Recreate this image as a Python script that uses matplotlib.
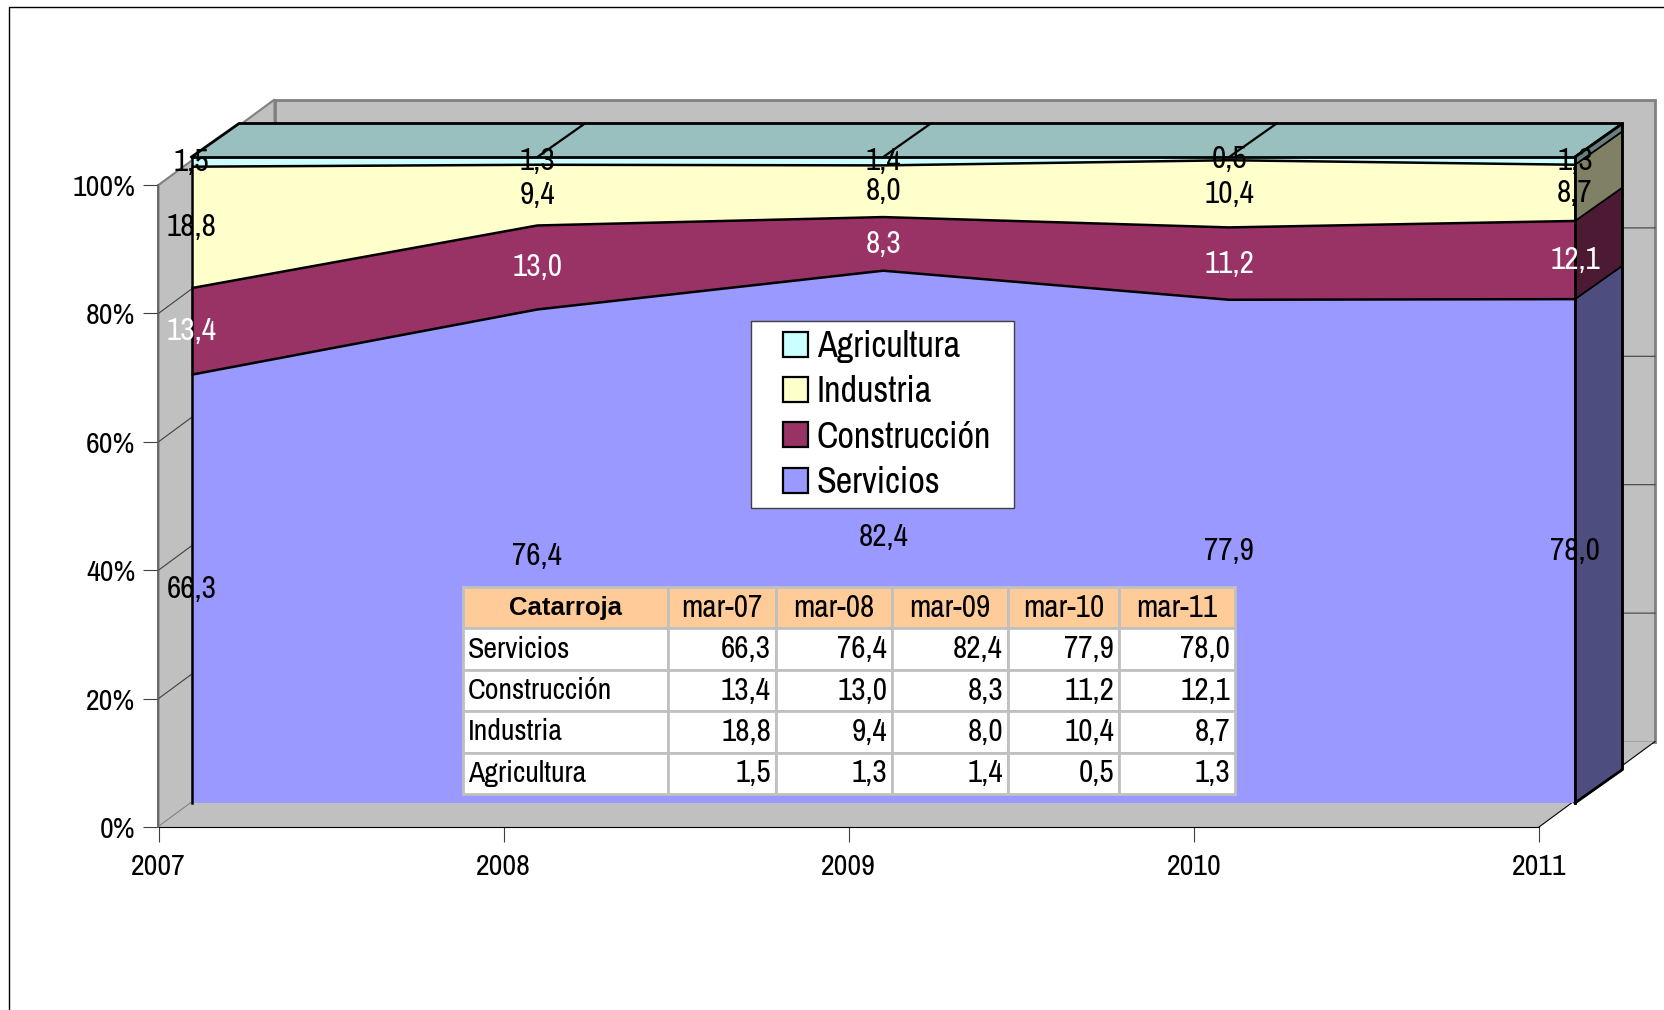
import matplotlib
matplotlib.use('Agg')
import numpy as np
import matplotlib.pyplot as plt
from matplotlib.patches import Polygon, Patch, Rectangle
from matplotlib.lines import Line2D

anios = [2007, 2008, 2009, 2010, 2011]
meses = ['mar-07', 'mar-08', 'mar-09', 'mar-10', 'mar-11']
servicios = [66.3, 76.4, 82.4, 77.9, 78.0]
construccion = [13.4, 13.0, 8.3, 11.2, 12.1]
industria = [18.8, 9.4, 8.0, 10.4, 8.7]
agricultura = [1.5, 1.3, 1.4, 0.5, 1.3]

nombres = ['Servicios', 'Construcción', 'Industria', 'Agricultura']
colores = ['#9999FF', '#993366', '#FFFFCC', '#CCFFFF']
laterales = ['#4D4D80', '#4D1A33', '#808066', '#668080']
color_etiqueta = ['black', 'white', 'black', 'black']

plt.rcParams['font.family'] = ['Archivo Narrow', 'Liberation Sans']
W, H = 1665, 1010
TEXTO = 22.5


def caja(x0, y0, x1, y1):
    # rectangle in image pixels -> figure fraction
    return [x0/W, 1-y1/H, (x1-x0)/W, (y1-y0)/H]


fig = plt.figure(figsize=(W/100, H/100), dpi=100, facecolor='white')

# outer frame, only left and top reach inside the picture
fig.add_artist(Line2D([9.5/W, 9.5/W, 1], [0, 1-6.5/H, 1-6.5/H], color='black', lw=1.0))

# --- axis plane with the walls behind it
eje = fig.add_axes(caja(158.5, 185, 1539, 827), facecolor='none')
eje.set_xlim(2007, 2011)
eje.set_ylim(0, 100)
fx = (2011-2007)/(1539-158.5)
fy = 100/(827-185)
px, py = 116*fx, 85.5*fy  # depth of the box in data units
gris = '#C0C0C0'
borde = '#808080'
eje.add_patch(Polygon([(2007+px, 100+py), (2011+px, 100+py), (2011+px, py), (2007+px, py)],
                      fc=gris, ec=borde, lw=2, clip_on=False, zorder=0.6))
eje.add_patch(Polygon([(2007, 0), (2007, 100), (2007+px, 100+py), (2007+px, py)],
                      fc=gris, ec=borde, lw=1.5, clip_on=False, zorder=0.7))
eje.add_patch(Polygon([(2007, 0), (2011, 0), (2011+px, py), (2007+px, py)],
                      fc=gris, ec='none', clip_on=False, zorder=0.7))
eje.plot([2011, 2011+px], [0, py], color='black', lw=0.8, clip_on=False, zorder=0.8)
for v in range(20, 100, 20):
    eje.plot([2007, 2007+px, 2011+px], [v, v+py, v+py], color='#404040', lw=0.8, clip_on=False, zorder=0.9)
eje.set_xticks(anios)
eje.set_xticklabels([str(a) for a in anios])
eje.set_yticks(range(0, 101, 20))
eje.set_yticklabels(['%d%%' % v for v in range(0, 101, 20)])
eje.tick_params(axis='both', length=10.5, width=0.8, color='#404040', labelsize=21.5, pad=6)
eje.tick_params(axis='x', pad=8)
for lab in eje.get_yticklabels():
    lab.set_va('center_baseline')
for lado in ['top', 'right']:
    eje.spines[lado].set_visible(False)
eje.spines['left'].set_color('#606060')
eje.spines['left'].set_linewidth(1.2)
eje.spines['bottom'].set_color('black')

# --- stacked series plane
ax = fig.add_axes(caja(191.5, 157, 1575, 803), facecolor='none')
ax.set_xlim(2007, 2011)
ax.set_ylim(0, 100)
ax.set_axis_off()
series = [servicios, construccion, industria, agricultura]
acum = np.cumsum(series, axis=0)
ax.stackplot(anios, series, colors=colores, linewidth=0, zorder=2)
for techo in acum[:-1]:
    ax.plot(anios, techo, color='black', lw=1.8, zorder=3, solid_capstyle='butt')

gx = (2011-2007)/(1575-191.5)
gy = 100/(803-157)
dx, dy = 47.5*gx, 33.5*gy  # series thickness in data units

# top face
ax.add_patch(Polygon([(2007, 100), (2011, 100), (2011+dx, 100+dy), (2007+dx, 100+dy)],
                     fc='#99BFBF', ec='none', clip_on=False, zorder=2))
ax.plot([2007, 2011], [100, 100], color='black', lw=2, clip_on=False, zorder=4)
ax.plot([2007, 2007+dx, 2011+dx], [100, 100+dy, 100+dy], color='black', lw=2, clip_on=False, zorder=4)
for a in anios[1:-1]:
    ax.plot([a, a+dx], [100, 100+dy], color='black', lw=1.6, clip_on=False, zorder=4)

# right side faces, from the 2011 values
base = 0
for techo, col in zip(acum[:, -1], laterales):
    ax.add_patch(Polygon([(2011, base), (2011, techo), (2011+dx, techo+dy), (2011+dx, base+dy)],
                         fc=col, ec='black', lw=1.2, clip_on=False, zorder=3))
    base = techo
ax.plot([2007, 2007], [0, 100], color='black', lw=1.8, clip_on=False, zorder=4)
ax.plot([2011, 2011], [0, 100], color='black', lw=2, clip_on=False, zorder=4)
ax.plot([2011, 2011+dx, 2011+dx, 2011], [0, dy, 100+dy, 100], color='black', lw=2, clip_on=False, zorder=4)

# data labels in the middle of each band
base = np.zeros(5)
for vals, c in zip(series, color_etiqueta):
    for a, v, b in zip(anios, vals, base):
        ax.text(a, b+v/2, ('%.1f' % v).replace('.', ','), color=c, fontsize=TEXTO,
                ha='center', va='center', zorder=6, clip_on=False)
    base = base+np.array(vals)

# legend: frame drawn apart, the box has more side margin than legend pads allow
fig.add_artist(Rectangle((751/W, 1-508/H), 263/W, 187/H, transform=fig.transFigure,
                         fc='white', ec='#404040', lw=1, zorder=5))
manejadores = [Patch(fc=c, ec='black', lw=1.6, label=n) for c, n in zip(colores, nombres)][::-1]
ley = fig.legend(handles=manejadores, loc='upper left', bbox_to_anchor=(783/W, 1-330/H),
                 bbox_transform=fig.transFigure, borderaxespad=0, fontsize=26, frameon=False,
                 handlelength=0.69, handleheight=0.69, handletextpad=0.24, labelspacing=0.34, borderpad=0)
ley.set_zorder(6)

# table
tab_ax = fig.add_axes(caja(463, 587, 1235, 794))
tab_ax.set_axis_off()
anchos = np.array([205, 108, 116, 116, 111, 116])
filas = [[n]+[('%.1f' % v).replace('.', ',') for v in s] for n, s in zip(nombres, series)]
tabla = tab_ax.table(cellText=filas, colLabels=['Catarroja']+meses, colWidths=list(anchos/anchos.sum()),
                     bbox=[0, 0, 1, 1])
tabla.auto_set_font_size(False)
for (f, c), celda in tabla.get_celld().items():
    celda.set_edgecolor(gris)
    celda.set_linewidth(2)
    celda.set_fontsize(TEXTO)
    celda.PAD = 5/anchos[c]
    if f == 0:
        celda.set_facecolor('#FFCC99')
        celda.get_text().set_ha('center')
        if c == 0:
            # the narrow family has no bold cut here
            celda.get_text().set_fontfamily('Liberation Sans')
            celda.get_text().set_fontweight('bold')
            celda.set_fontsize(18.5)
    elif c == 0:
        celda.set_fontsize(21.5)
        celda.get_text().set_ha('left')
    else:
        celda.get_text().set_ha('right')

fig.savefig('out.png', dpi=100)
